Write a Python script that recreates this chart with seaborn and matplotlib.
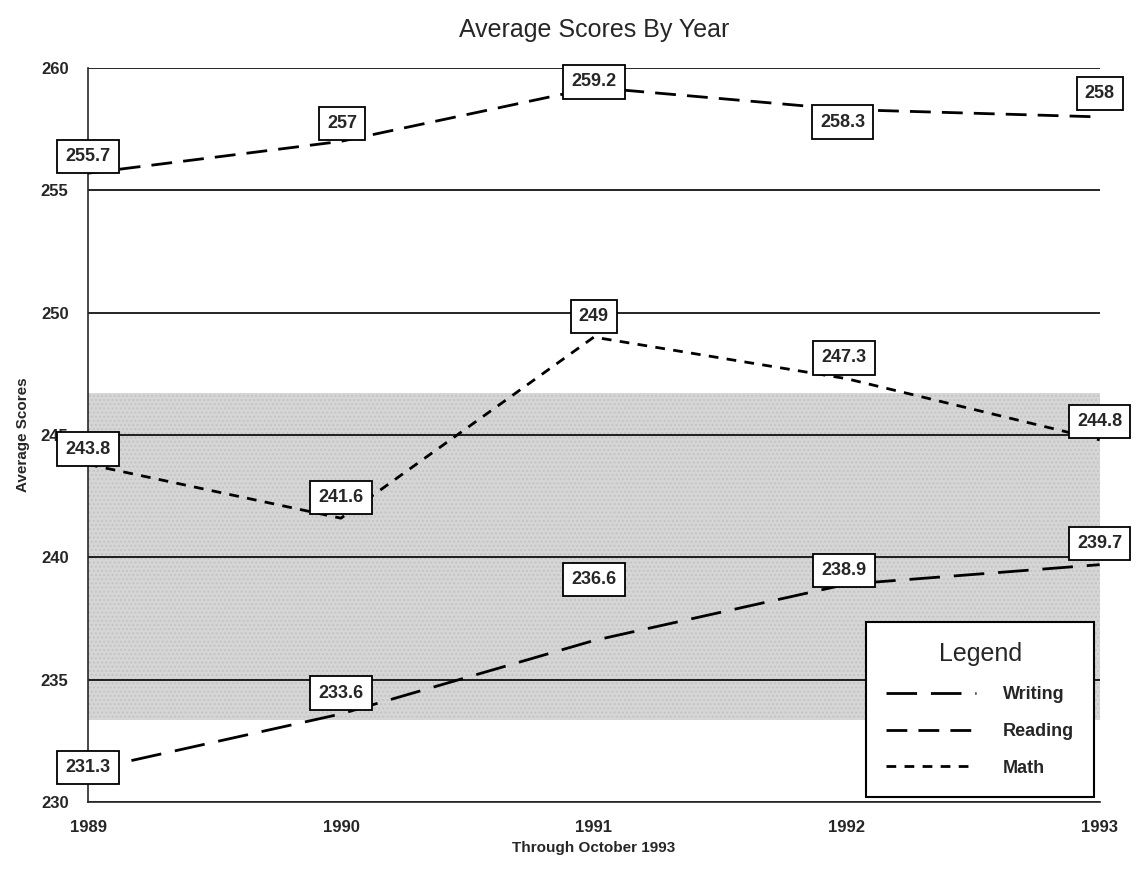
import pandas as pd
import matplotlib
matplotlib.use("Agg")
import matplotlib.pyplot as plt
import seaborn as sns

years = [1989, 1990, 1991, 1992, 1993]
writing = [231.3, 233.6, 236.6, 238.9, 239.7]
reading = [255.7, 257, 259.2, 258.3, 258]
math_scores = [243.8, 241.6, 249, 247.3, 244.8]
subjects = ["Writing", "Reading", "Math"]
yticks = [230, 235, 240, 245, 250, 255, 260]

# label box offsets in points (dx, dy) from each point
label_offsets = {
    "Writing": [(0, 2), (0, 15), (0, 44), (-2, 10), (0, 15)],
    "Reading": [(0, 12), (1, 13), (0, 4), (-3, -9), (0, 17)],
    "Math": [(0, 11), (0, 15), (0, 15), (-2, 15), (0, 13)],
}

df = pd.DataFrame({
    "Year": years * 3,
    "Score": writing + reading + math_scores,
    "Subject": ["Writing"] * 5 + ["Reading"] * 5 + ["Math"] * 5,
})

sns.set_style("white")
plt.rcParams["font.family"] = ["Liberation Sans Narrow", "Liberation Sans", "DejaVu Sans"]

fig = plt.figure(figsize=(11.36, 8.77), dpi=100)
ax = fig.add_axes([0.0775, 0.0855, 0.8905, 0.837])

dash_styles = {"Writing": (11, 5), "Reading": (7.5, 4), "Math": (3.5, 3)}

# shaded band
ax.fill_between([1989, 1993], 233.35, 246.7, color="#d6d6d6", hatch="....",
                edgecolor="#c4c4c4", linewidth=0, zorder=0)

for y in yticks:
    ax.axhline(y, color="black", lw=1.2, zorder=1)

sns.lineplot(data=df, x="Year", y="Score", hue="Subject", style="Subject",
             palette={s: "black" for s in subjects}, dashes=dash_styles,
             linewidth=2, ax=ax, legend=False, zorder=3)

for subj, vals in zip(subjects, [writing, reading, math_scores]):
    for x, v, off in zip(years, vals, label_offsets[subj]):
        ax.annotate(f"{v:g}", (x, v), xytext=off, textcoords="offset points",
                    ha="center", va="center", fontsize=13, fontweight="bold",
                    bbox=dict(boxstyle="square,pad=0.45", fc="white", ec="black", lw=1.3),
                    zorder=5)

ax.set_xlim(1989, 1993)
ax.set_ylim(230, 260)
ax.set_xticks(years)
ax.set_yticks(yticks)
ax.tick_params(axis="both", direction="out", length=8, width=1, labelsize=12)
for lab in ax.get_xticklabels() + ax.get_yticklabels():
    lab.set_fontweight("bold")
ax.tick_params(axis="y", pad=6)
ax.tick_params(axis="x", pad=5)

for side in ["top", "right"]:
    ax.spines[side].set_visible(False)
ax.spines["left"].set_linewidth(1.2)
ax.spines["bottom"].set_linewidth(1.2)

ax.set_title("Average Scores By Year", fontsize=18, pad=22)
ax.set_xlabel("Through October 1993", fontsize=11, fontweight="bold", labelpad=4)
ax.set_ylabel("Average Scores", fontsize=11, fontweight="bold", labelpad=8)

handles = [plt.Line2D([], [], color="black", lw=2, dashes=dash_styles[s]) for s in subjects]
leg = ax.legend(handles, subjects, title="Legend", loc="lower right",
                bbox_to_anchor=(1.0, 0.0), fontsize=13, title_fontsize=18,
                frameon=True, fancybox=False, edgecolor="black", framealpha=1,
                handlelength=5, borderpad=1.1, labelspacing=1.1, handletextpad=1.5,
                borderaxespad=0.3)
leg.get_frame().set_linewidth(1.5)
for t in leg.get_texts():
    t.set_fontweight("bold")
leg.set_zorder(6)

fig.savefig("out.png", dpi=100)
